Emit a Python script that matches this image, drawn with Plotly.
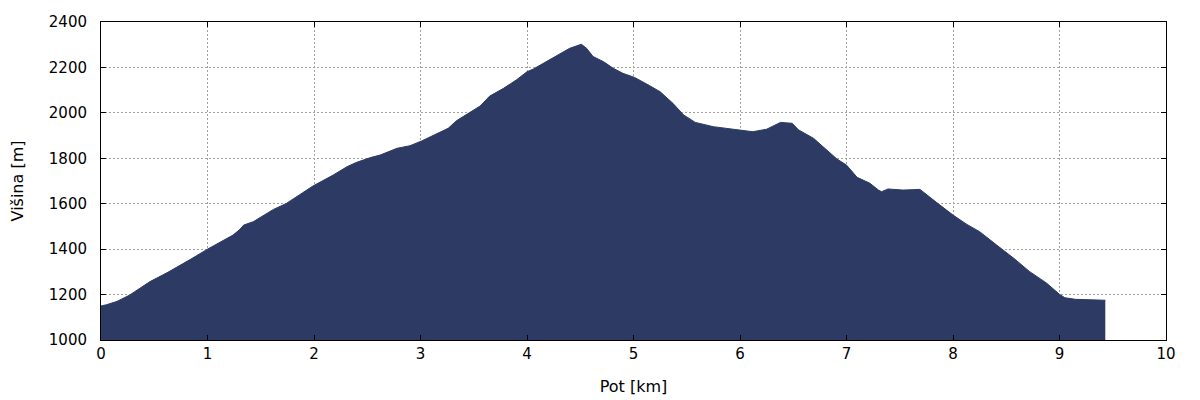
import plotly.graph_objects as go

distance_km = [0.0, 0.05, 0.15, 0.27, 0.46, 0.62, 0.84, 1.0, 1.24, 1.30, 1.34, 1.43, 1.62,
               1.74, 1.99, 2.18, 2.31, 2.40, 2.53, 2.62, 2.78, 2.90, 3.01, 3.26, 3.34, 3.46,
               3.56, 3.65, 3.78, 3.90, 4.0, 4.06, 4.18, 4.31, 4.40, 4.51, 4.56, 4.62, 4.72,
               4.81, 4.90, 5.01, 5.09, 5.15, 5.25, 5.37, 5.47, 5.58, 5.75, 5.94, 6.12, 6.25,
               6.38, 6.49, 6.55, 6.69, 6.81, 6.91, 7.0, 7.10, 7.22, 7.30, 7.33, 7.39, 7.53,
               7.66, 7.69, 7.85, 8.0, 8.13, 8.25, 8.41, 8.57, 8.72, 8.88, 9.0, 9.05, 9.15, 9.43]
elevation_m = [1150, 1155, 1170, 1198, 1257, 1296, 1355, 1400, 1462, 1485, 1506, 1521, 1575,
               1601, 1678, 1726, 1763, 1782, 1803, 1814, 1844, 1855, 1876, 1932, 1966, 2001,
               2030, 2074, 2108, 2145, 2181, 2193, 2225, 2262, 2284, 2302, 2284, 2248, 2225,
               2196, 2174, 2156, 2137, 2120, 2093, 2042, 1991, 1958, 1939, 1928, 1917, 1928,
               1958, 1954, 1925, 1888, 1836, 1797, 1770, 1716, 1690, 1660, 1653, 1665, 1660,
               1665, 1663, 1604, 1550, 1509, 1477, 1418, 1360, 1301, 1250, 1201, 1186, 1179, 1175]

x_ticks = [0, 1, 2, 3, 4, 5, 6, 7, 8, 9, 10]
y_ticks = [1000, 1200, 1400, 1600, 1800, 2000, 2200, 2400]

fill_color = "#2c3a64"

fig = go.Figure()
fig.add_trace(go.Scatter(
    x=distance_km, y=elevation_m, mode="lines",
    line=dict(color=fill_color, width=1),
    fill="tozeroy", fillcolor=fill_color,
    hoverinfo="skip", showlegend=False,
))

axis_common = dict(
    showline=True, linecolor="black", linewidth=1, mirror="ticks",
    ticks="inside", ticklen=5, tickcolor="black", tickwidth=1,
    showgrid=True, gridcolor="#a0a0a0", gridwidth=1, griddash="2px,2px",
    zeroline=False, automargin=False,
    tickfont=dict(family="DejaVu Sans", size=15, color="black"),
)

fig.update_layout(
    width=1200, height=400,
    margin=dict(l=93, r=42, t=14, b=68),
    paper_bgcolor="white", plot_bgcolor="white",
    font=dict(family="DejaVu Sans", size=15, color="black"),
    xaxis=dict(range=[0, 10], tickvals=x_ticks,
               title=dict(text="Pot [km]", standoff=18, font=dict(size=16)),
               **axis_common),
    yaxis=dict(range=[1000, 2400], tickvals=y_ticks, ticklabelstandoff=10,
               title=dict(text="Višina [m]", standoff=30, font=dict(size=16)),
               **axis_common),
)

fig.write_html("out.html")
